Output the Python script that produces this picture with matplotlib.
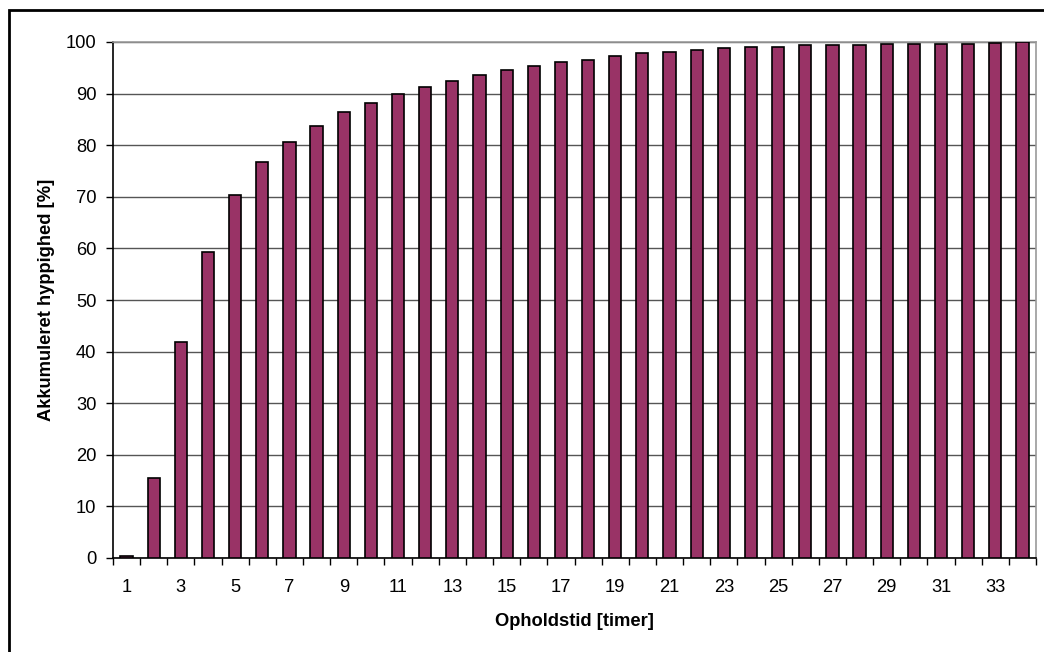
import matplotlib.pyplot as plt
import numpy as np
from matplotlib.patches import Rectangle

plt.rcParams['font.family'] = ['Liberation Sans', 'DejaVu Sans']

# akkumuleret hyppighed pr. opholdstid
timer = np.arange(1, 35)
hyppighed = [0.3, 15.6, 41.8, 59.3, 70.4, 76.7, 80.6, 83.7, 86.4, 88.2,
             90.0, 91.2, 92.4, 93.7, 94.5, 95.4, 96.1, 96.6, 97.3, 97.9,
             98.1, 98.4, 98.8, 99.1, 99.1, 99.4, 99.4, 99.4, 99.6, 99.6,
             99.6, 99.6, 99.9, 100.0]
y_ticks = np.arange(0, 101, 10)

W, H = 1044, 652
fig = plt.figure(figsize=(W / 100, H / 100), dpi=100)
ax = fig.add_axes([113 / W, 1 - 558 / H, (1036 - 113) / W, (558 - 42) / H])

# ydre ramme
fig.patches.append(Rectangle((9 / W, -0.1), 1.2, 1 - 10 / H + 0.1,
                             transform=fig.transFigure, fill=False,
                             edgecolor='black', linewidth=2))

ax.bar(timer, hyppighed, width=0.45, color='#993366', edgecolor='black',
       linewidth=1.2, zorder=3)

ax.set_xlim(0.5, 34.5)
ax.set_ylim(0, 100)
ax.set_yticks(y_ticks)
ax.yaxis.grid(True, color='#555555', linewidth=1, zorder=0)

ax.set_xticks(np.arange(0.5, 35, 1))
ax.set_xticklabels([])
ax.set_xticks(timer[::2], minor=True)
ax.set_xticklabels([str(t) for t in timer[::2]], minor=True)
ax.tick_params(axis='x', which='minor', length=0, pad=15, labelsize=13.2)
ax.tick_params(axis='x', which='major', length=5, width=1, direction='out')
ax.tick_params(axis='y', length=5, width=1, direction='out', pad=7,
               labelsize=13.2)

for s in ['left', 'bottom']:
    ax.spines[s].set_color('black')
    ax.spines[s].set_linewidth(1.2)
for s in ['top', 'right']:
    ax.spines[s].set_color('#999999')
    ax.spines[s].set_linewidth(1.2)

ax.set_xlabel('Opholdstid [timer]', fontsize=13.2, fontweight='bold',
              labelpad=12)
ax.set_ylabel('Akkumuleret hyppighed [%]', fontsize=13.2, fontweight='bold',
              labelpad=8)

fig.savefig('out.png', dpi=100)
